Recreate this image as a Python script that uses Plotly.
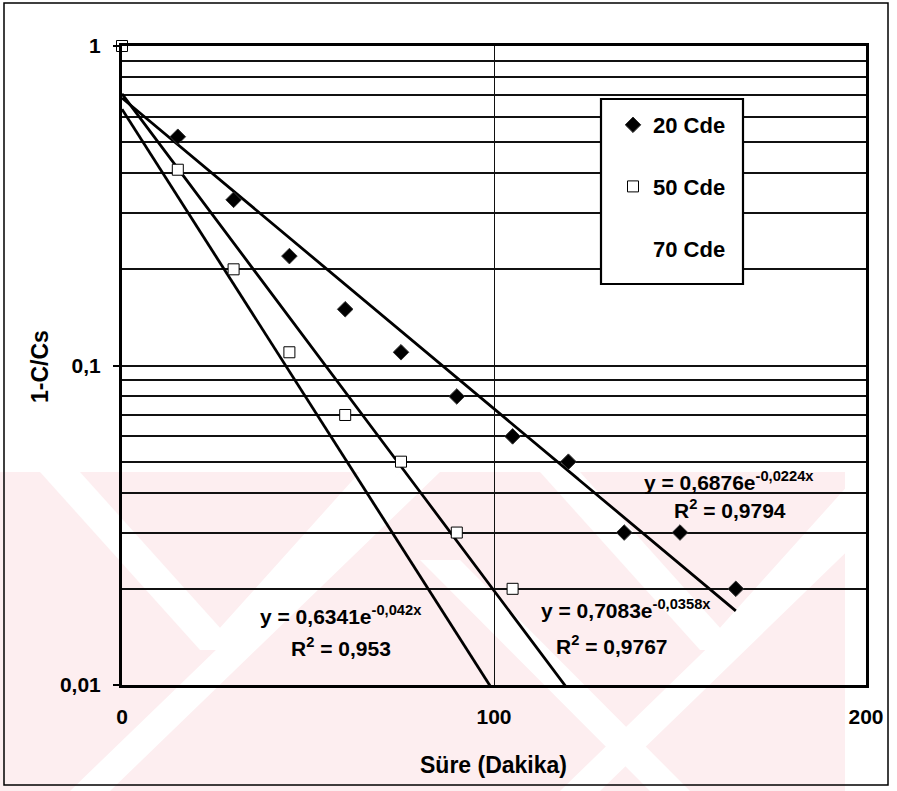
import numpy as np
import plotly.graph_objects as go

# ---- data ----
time_20 = [15, 30, 45, 60, 75, 90, 105, 120, 135, 150, 165]
ratio_20 = [0.52, 0.33, 0.22, 0.15, 0.11, 0.08, 0.06, 0.05, 0.03, 0.03, 0.02]
time_50 = [0, 15, 30, 45, 60, 75, 90, 105]
ratio_50 = [1.0, 0.41, 0.20, 0.11, 0.07, 0.05, 0.03, 0.02]
series_names = ["20 Cde", "50 Cde", "70 Cde"]
# exponential trendlines (a, b) : y = a*exp(b*x)
fit_20 = (0.6876, -0.0224)
fit_50 = (0.7083, -0.0358)
fit_70 = (0.6341, -0.042)
fit_x_end = 165
x_ticks = [0, 100, 200]
x_ticktext = ["0", "100", "200"]
y_ticks = [0.01, 0.1, 1]
y_ticktext = ["0,01", "0,1", "1"]

W, H = 897, 791
L, R, T, B = 122, 866, 46, 685


def X(px):
    return (px - L) / (R - L)


def Y(py):
    return (B - py) / (B - T)


FONT = "Liberation Sans"

fig = go.Figure()

xfit = np.linspace(0, fit_x_end, 400)
for a, b in (fit_20, fit_50, fit_70):
    fig.add_trace(go.Scatter(x=xfit, y=a * np.exp(b * xfit), mode="lines",
                             line=dict(color="black", width=2.8),
                             showlegend=False, hoverinfo="skip"))

fig.add_trace(go.Scatter(x=time_20, y=ratio_20, mode="markers", name="<b>" + series_names[0] + "</b>",
                         legendgroup="a",
                         marker=dict(symbol="diamond", size=12, color="black",
                                     line=dict(color="#333", width=1)),
                         cliponaxis=False))
fig.add_trace(go.Scatter(x=time_50, y=ratio_50, mode="markers", name="<b>" + series_names[1] + "</b>",
                         legendgroup="b",
                         marker=dict(symbol="square", size=11, color="white",
                                     line=dict(color="black", width=1)),
                         cliponaxis=False))
fig.add_trace(go.Scatter(x=[None], y=[None], mode="markers", name="<b>" + series_names[2] + "</b>",
                         legendgroup="c",
                         marker=dict(symbol="square", size=11, color="white", opacity=0)))

minor_vals = [k * 10.0 ** d for d in (-2, -1) for k in range(2, 10)]

fig.update_xaxes(range=[0, 200], tickvals=x_ticks, ticktext=["<b>%s</b>" % t for t in x_ticktext],
                 showgrid=True, gridcolor="#111", gridwidth=1.3,
                 showline=True, linecolor="black", linewidth=3, mirror=True,
                 ticks="", ticklabelstandoff=11,
                 tickfont=dict(family=FONT, size=21, color="black"), zeroline=False)
fig.update_yaxes(type="log", range=[-2, 0], tickvals=y_ticks, ticktext=["<b>%s</b>" % t for t in y_ticktext],
                 showgrid=True, gridcolor="#111", gridwidth=1.6,
                 minor=dict(tickvals=minor_vals, showgrid=True, gridcolor="#111", gridwidth=1.6, ticks=""),
                 showline=True, linecolor="black", linewidth=3, mirror=True,
                 ticks="outside", ticklen=6, tickcolor="black", tickwidth=1.5, ticklabelstandoff=8,
                 tickfont=dict(family=FONT, size=21, color="black"), zeroline=False)

shapes = []
PINK = "#fdeef0"


def poly(pts, color):
    path = "M " + " L ".join("%f,%f" % (X(px), Y(py)) for px, py in pts) + " Z"
    return dict(type="path", xref="paper", yref="paper", path=path,
                fillcolor=color, line=dict(width=0), layer="below")


# faint watermark in the lower part
shapes.append(poly([(0, 472), (845, 472), (845, 791), (0, 791)], PINK))
bw = 40
for (x1, y1, x2, y2) in [(40, 472, 200, 650), (200, 650, 360, 472),
                         (70, 791, 400, 472), (420, 560, 650, 791),
                         (540, 472, 700, 650), (700, 650, 860, 472),
                         (560, 791, 860, 500)]:
    shapes.append(poly([(x1, y1), (x1 + bw, y1), (x2 + bw, y2), (x2, y2)], "white"))

# legend box
shapes.append(dict(type="rect", xref="paper", yref="paper",
                   x0=X(601), x1=X(743), y0=Y(284), y1=Y(99),
                   fillcolor="white", line=dict(color="black", width=2.2), layer="above"))
# outer frame
shapes.append(dict(type="rect", xref="paper", yref="paper",
                   x0=X(4), x1=X(888), y0=Y(785), y1=Y(3),
                   fillcolor="rgba(0,0,0,0)", line=dict(color="black", width=1.5), layer="above"))

ann_font = dict(family=FONT, size=21, color="black")
annotations = [
    dict(x=X(729), y=Y(481), text="<b>y = 0,6876e<sup>-0,0224x</sup></b>"),
    dict(x=X(730), y=Y(509), text="<b>R<sup>2</sup> = 0,9794</b>"),
    dict(x=X(626), y=Y(609), text="<b>y = 0,7083e<sup>-0,0358x</sup></b>"),
    dict(x=X(612), y=Y(645), text="<b>R<sup>2</sup> = 0,9767</b>"),
    dict(x=X(341), y=Y(615), text="<b>y = 0,6341e<sup>-0,042x</sup></b>"),
    dict(x=X(341), y=Y(647), text="<b>R<sup>2</sup> = 0,953</b>"),
    dict(x=X(493), y=Y(765), text="<b>Süre (Dakika)</b>", font=dict(family=FONT, size=23, color="black")),
    dict(x=X(40), y=Y(367), text="<b>1-C/Cs</b>", textangle=-90, font=dict(family=FONT, size=23, color="black")),
]
for a in annotations:
    a.setdefault("font", ann_font)
    a.update(xref="paper", yref="paper", showarrow=False,
             xanchor="center", yanchor="middle")

fig.update_layout(
    width=W, height=H,
    margin=dict(l=L, r=W - R, t=T, b=H - B),
    paper_bgcolor="white", plot_bgcolor="rgba(0,0,0,0)",
    shapes=shapes, annotations=annotations,
    showlegend=True,
    legend=dict(x=X(613), y=Y(104), xanchor="left", yanchor="top",
                bgcolor="rgba(0,0,0,0)", borderwidth=0,
                font=dict(family=FONT, size=22, color="black"),
                tracegroupgap=30, itemwidth=30),
    font=dict(family=FONT, color="black"),
)

fig.write_html("out.html", config={"displayModeBar": False},
               post_script="document.body.style.margin='0px';document.body.style.overflow='hidden';")
